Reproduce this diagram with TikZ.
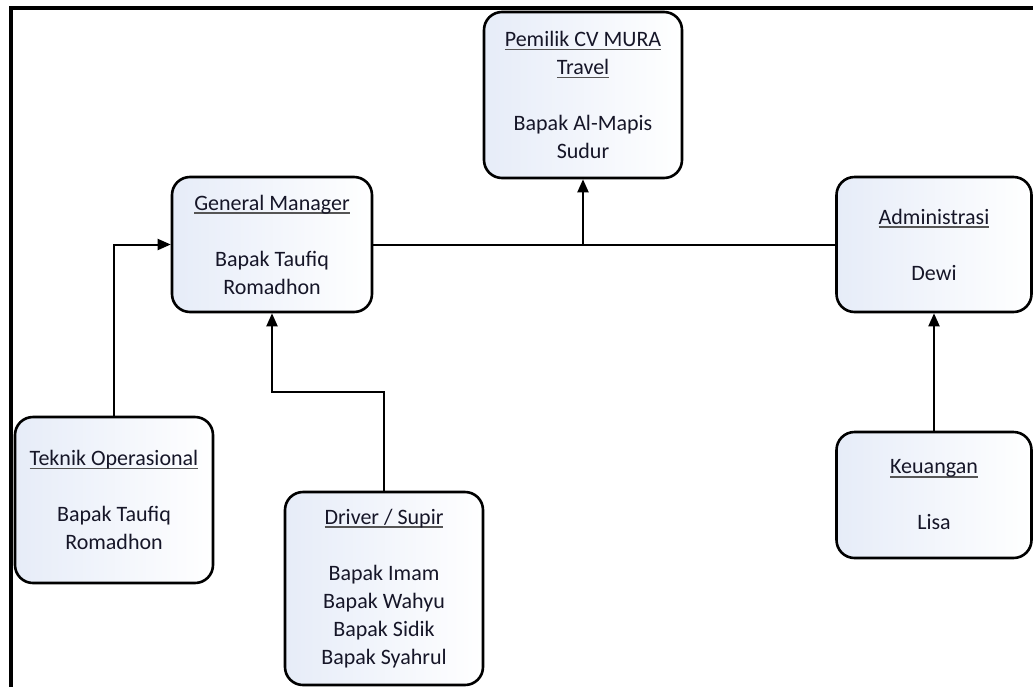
\documentclass[tikz,border=0pt]{standalone}
\usepackage{fontspec}
\setmainfont{Carlito}
\usetikzlibrary{arrows.meta,calc}
\definecolor{txt}{RGB}{22,22,40}
\definecolor{ulgray}{RGB}{85,85,85}
\definecolor{boxtop}{RGB}{230,236,248}
\newcommand\myul[1]{\setbox0\hbox{#1}\leavevmode\rlap{\textcolor{ulgray}{\rule[-3.8pt]{\wd0}{1.8pt}}}\box0}
\tikzset{
  orgbox/.style={draw=black, line width=2.6pt, rounded corners=18pt,
    left color=boxtop, right color=white,
    align=center, text=txt, inner sep=0pt,
    font=\fontsize{22}{28}\selectfont},
  conn/.style={line width=2pt, draw=black},
  arr/.style={conn, -{Triangle[length=13pt,width=11pt]}},
  frame/.style={line width=4pt, draw=black}
}
\begin{document}
\begin{tikzpicture}[x=1pt,y=-1pt]
\useasboundingbox (0,0) rectangle (1033,686);
% frame
\coordinate (ftr) at (1040,8);
\coordinate (ftl) at (11,8);
\coordinate (fbl) at (11,690);
\draw[frame] (ftr) -- (ftl) -- (fbl);
% boxes
\node[orgbox, minimum width=198pt, minimum height=166pt] (own) at (583,95)
  {\myul{Pemilik CV MURA}\\\myul{Travel}\\[28pt]Bapak Al-Mapis\\Sudur};
\node[orgbox, minimum width=200pt, minimum height=135pt] (gm) at (272,244.5)
  {\myul{General Manager}\\[28pt]Bapak Taufiq\\Romadhon};
\node[orgbox, minimum width=195pt, minimum height=135pt] (adm) at (934,244.5)
  {\myul{Administrasi}\\[28pt]Dewi};
\node[orgbox, minimum width=195pt, minimum height=126pt] (keu) at (934,495)
  {\myul{Keuangan}\\[28pt]Lisa};
\node[orgbox, minimum width=198pt, minimum height=166pt] (tek) at (114,500)
  {\myul{Teknik Operasional}\\[28pt]Bapak Taufiq\\Romadhon};
\node[orgbox, minimum width=198pt, minimum height=193pt] (drv) at (384,588.5)
  {\myul{Driver / Supir}\\[28pt]Bapak Imam\\Bapak Wahyu\\Bapak Sidik\\Bapak Syahrul};
% connectors
\draw[conn] (gm.east) -- (adm.west);
\coordinate (mid) at (own.south |- gm.east);
\draw[arr] (mid) -- (own.south);
\draw[arr] (tek.north) |- (gm.west);
\coordinate (dy) at (0,392);
\coordinate (dturn) at (gm.south |- dy);
\draw[arr] (drv.north) |- (dturn) -- (gm.south);
\draw[arr] (keu.north) -- (adm.south);
\end{tikzpicture}
\end{document}
